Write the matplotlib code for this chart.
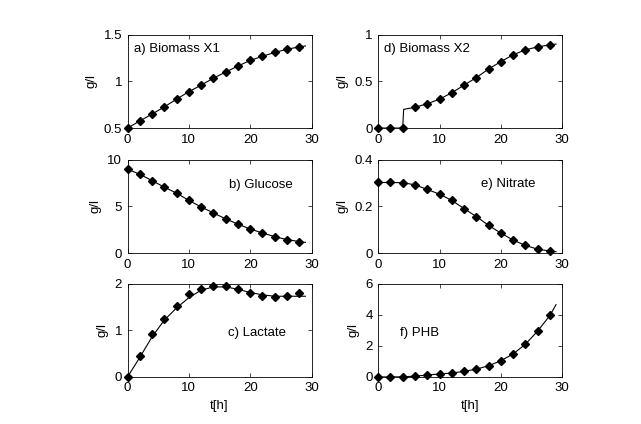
import matplotlib
matplotlib.use("Agg")
import matplotlib.pyplot as plt
import numpy as np

plt.rcParams['font.family'] = ['Liberation Sans', 'DejaVu Sans']
plt.rcParams['font.size'] = 9.5

# measured data (every 2 h)
t_meas = [0, 2, 4, 6, 8, 10, 12, 14, 16, 18, 20, 22, 24, 26, 28]
x1_meas = [0.50, 0.576, 0.65, 0.727, 0.81, 0.89, 0.96, 1.04, 1.10, 1.17, 1.23, 1.27, 1.31, 1.35, 1.37]
x2_meas = [0.0, 0.0, 0.0, 0.223, 0.26, 0.31, 0.378, 0.46, 0.54, 0.633, 0.712, 0.788, 0.838, 0.87, 0.892]
glc_meas = [9.0, 8.45, 7.77, 7.07, 6.43, 5.65, 4.95, 4.31, 3.67, 3.11, 2.58, 2.16, 1.77, 1.45, 1.24]
no3_meas = [0.303, 0.303, 0.302, 0.293, 0.273, 0.253, 0.226, 0.191, 0.157, 0.119, 0.086, 0.056, 0.033, 0.017, 0.009]
lac_meas = [0.0, 0.44, 0.93, 1.25, 1.53, 1.77, 1.89, 1.96, 1.95, 1.88, 1.79, 1.73, 1.71, 1.74, 1.81]
phb_meas = [0.0, 0.0, 0.01, 0.05, 0.12, 0.20, 0.25, 0.37, 0.50, 0.73, 1.05, 1.50, 2.10, 2.95, 4.00]

# model curves
t_mod = [0, 2, 4, 6, 8, 10, 12, 14, 16, 18, 20, 22, 24, 26, 28, 29]
x1_mod = [0.50, 0.576, 0.65, 0.727, 0.81, 0.89, 0.96, 1.035, 1.10, 1.165, 1.225, 1.27, 1.31, 1.345, 1.37, 1.38]
t_x2 = [0, 2, 4, 4.15, 6, 8, 10, 12, 14, 16, 18, 20, 22, 24, 26, 28, 29]
x2_mod = [0.0, 0.0, 0.0, 0.20, 0.223, 0.26, 0.31, 0.378, 0.46, 0.54, 0.633, 0.712, 0.785, 0.838, 0.87, 0.892, 0.90]
glc_mod = [9.0, 8.45, 7.77, 7.07, 6.43, 5.65, 4.95, 4.31, 3.67, 3.11, 2.58, 2.16, 1.77, 1.45, 1.24, 1.15]
no3_mod = [0.303, 0.303, 0.302, 0.293, 0.273, 0.253, 0.226, 0.191, 0.157, 0.119, 0.086, 0.056, 0.033, 0.017, 0.009, 0.006]
lac_mod = [0.0, 0.42, 0.86, 1.22, 1.48, 1.70, 1.86, 1.93, 1.93, 1.88, 1.81, 1.76, 1.73, 1.73, 1.73, 1.73]
phb_mod = [0.0, 0.0, 0.01, 0.05, 0.12, 0.19, 0.25, 0.36, 0.50, 0.72, 1.04, 1.48, 2.10, 2.95, 3.95, 4.65]

panels = [
    # (col, row, t_model, model, meas, ylim, yticks, yticklabels, label, label_pos)
    (0, 0, t_mod, x1_mod, x1_meas, (0.5, 1.5), [0.5, 1, 1.5], ['0.5', '1', '1.5'], 'a) Biomass X1', (1.0, 1.35)),
    (0, 1, t_mod, glc_mod, glc_meas, (0, 10), [0, 5, 10], ['0', '5', '10'], 'b) Glucose', (16.6, 7.3)),
    (0, 2, t_mod, lac_mod, lac_meas, (0, 2), [0, 1, 2], ['0', '1', '2'], 'c) Lactate', (16.3, 0.95)),
    (1, 0, t_x2, x2_mod, x2_meas, (0, 1), [0, 0.5, 1], ['0', '0.5', '1'], 'd) Biomass X2', (1.0, 0.85)),
    (1, 1, t_mod, no3_mod, no3_meas, (0, 0.4), [0, 0.2, 0.4], ['0', '0.2', '0.4'], 'e) Nitrate', (16.7, 0.295)),
    (1, 2, t_mod, phb_mod, phb_meas, (0, 6), [0, 2, 4, 6], ['0', '2', '4', '6'], 'f) PHB', (3.5, 2.8)),
]

lefts = [0.199, 0.590]
bottoms = [0.698, 0.403, 0.111]
w, h = 0.287, 0.220

fig = plt.figure(figsize=(6.41, 4.24), dpi=100)
for col, row, tm, ym, yd, ylim, yt, ytl, lab, pos in panels:
    ax = fig.add_axes([lefts[col], bottoms[row], w, h])
    ax.plot(tm, ym, color='k', lw=0.8)
    ax.plot(t_meas, yd, 'D', color='k', ms=4.0, clip_on=False)
    ax.set_xlim(0, 30)
    ax.set_ylim(*ylim)
    ax.set_xticks([0, 10, 20, 30])
    ax.set_yticks(yt)
    ax.set_yticklabels(ytl)
    ax.tick_params(direction='in', top=True, right=True, length=3, width=0.5, pad=4, labelsize=9.5)
    for s in ax.spines.values():
        s.set_linewidth(0.6)
    ax.set_ylabel('g/l', labelpad=4)
    if row == 2:
        ax.set_xlabel('t[h]', labelpad=4)
    ax.text(pos[0], pos[1], lab, fontsize=9.5, va='center', ha='left')

fig.savefig('out.png', dpi=100, facecolor='white')
